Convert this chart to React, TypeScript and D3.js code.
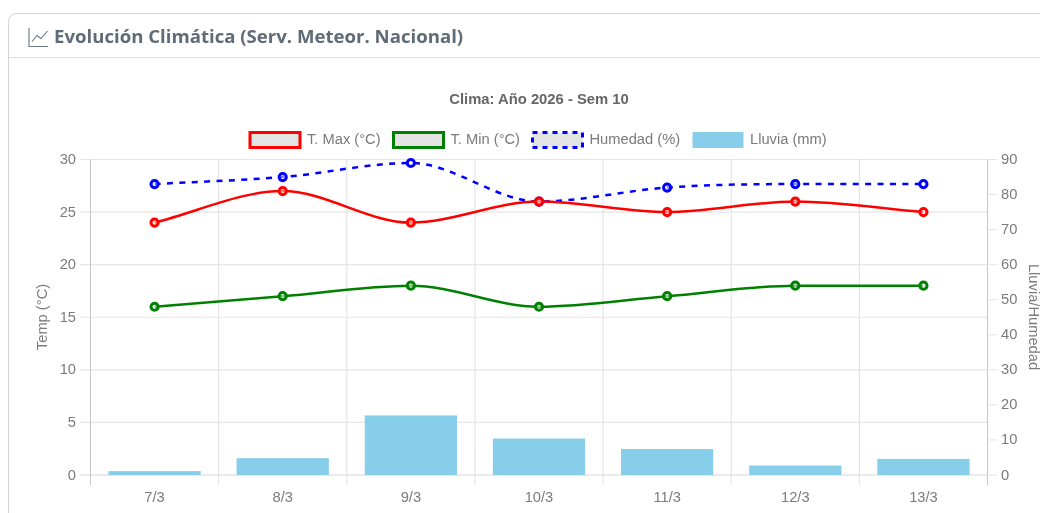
import React from "react";
import * as d3 from "d3";

const days = ["7/3", "8/3", "9/3", "10/3", "11/3", "12/3", "13/3"];
const tMax = [24, 27, 24, 26, 25, 26, 25];
const tMin = [16, 17, 18, 16, 17, 18, 18];
const humidity = [83, 85, 89, 78, 82, 83, 83];
const rain = [1.1, 4.8, 17, 10.4, 7.4, 2.7, 4.6];
const leftTicks = [0, 5, 10, 15, 20, 25, 30];
const rightTicks = [0, 10, 20, 30, 40, 50, 60, 70, 80, 90];

const W = 1040, H = 513;
const L = 90.5, R = 987.5, T = 159.5, B = 475;
const SANS = '"Liberation Sans", Arial, sans-serif';
const TXT = "#7b7b7b";
const FS = 14.7;

// Monotone cubic interpolation in the Chart.js manner, as a d3 curve factory
function monotoneCurve(context: any) {
  let pts: [number, number][] = [];
  return {
    areaStart() {},
    areaEnd() {},
    lineStart() { pts = []; },
    point(x: number, y: number) { pts.push([x, y]); },
    lineEnd() {
      const n = pts.length;
      const delta = d3.range(n - 1).map((i) => (pts[i + 1][1] - pts[i][1]) / (pts[i + 1][0] - pts[i][0]));
      const m = pts.map((_, i) => {
        if (i === 0) return delta[0];
        if (i === n - 1) return delta[n - 2];
        if (Math.sign(delta[i - 1]) !== Math.sign(delta[i])) return 0;
        return (delta[i - 1] + delta[i]) / 2;
      });
      delta.forEach((d, i) => {
        if (Math.abs(d) < 1e-9) { m[i] = 0; m[i + 1] = 0; return; }
        const a = m[i] / d, b = m[i + 1] / d, sq = a * a + b * b;
        if (sq <= 9) return;
        const tau = 3 / Math.sqrt(sq);
        m[i] = a * tau * d;
        m[i + 1] = b * tau * d;
      });
      pts.forEach((p, i) => {
        if (i === 0) { context.moveTo(p[0], p[1]); return; }
        const q = pts[i - 1], h = (p[0] - q[0]) / 3;
        context.bezierCurveTo(q[0] + h, q[1] + m[i - 1] * h, p[0] - h, p[1] - m[i] * h, p[0], p[1]);
      });
    },
  };
}

const x = d3.scaleBand<string>().domain(days).range([L, R]);
const yL = d3.scaleLinear().domain([0, 30]).range([B, T]);
const yR = d3.scaleLinear().domain([0, 90]).range([B, T]);
const cx = (d: string) => (x(d) as number) + x.bandwidth() / 2;
const barW = x.bandwidth() * 0.72;

const series = [
  { name: "Humedad (%)", vals: humidity, y: yR, color: "#0000ff", dash: "6 6.4" as string | undefined },
  { name: "T. Min (°C)", vals: tMin, y: yL, color: "#008000", dash: undefined },
  { name: "T. Max (°C)", vals: tMax, y: yL, color: "#ff0000", dash: undefined },
];

const legend = [
  { name: "T. Max (°C)", bx: 250, color: "#ff0000", fill: "#e3e3e3", dash: undefined as string | undefined, w: 3 },
  { name: "T. Min (°C)", bx: 393.5, color: "#008000", fill: "#e3e3e3", dash: undefined, w: 3 },
  { name: "Humedad (%)", bx: 532.5, color: "#0000ff", fill: "#e3e3e3", dash: "5 5", w: 3 },
  { name: "Lluvia (mm)", bx: 693, color: "#87ceeb", fill: "#87ceeb", dash: undefined, w: 1 },
];

export default function App() {
  return (
    <svg width={W} height={H} viewBox={`0 0 ${W} ${H}`} style={{ position: "absolute", left: 0, top: 0, display: "block", background: "#fff", filter: "blur(0.4px)" }}>
      {/* card */}
      <path d={`M8.5 ${H}V21.5a8 8 0 0 1 8-8H${W}`} fill="none" stroke="#d4d4d4" />
      <line x1={9} x2={W} y1={57.5} y2={57.5} stroke="#e0e0e0" />
      <g fill="none" stroke="#6c757d" strokeWidth={1.1}>
        <path d="M29 28V46.5H48" />
        <path d="M32 41.5L37 35.5L41 38.5L47.5 31" />
      </g>
      <text x={54} y={43} fontFamily='"Open Sans", sans-serif' fontWeight={700} fontSize={18.6} fill="#5f6b76">Evolución Climática (Serv. Meteor. Nacional)</text>

      <text x={539} y={104} textAnchor="middle" fontFamily={SANS} fontWeight={700} fontSize={14.8} fill="#666">Clima: Año 2026 - Sem 10</text>

      {/* legend */}
      {legend.map((l) => (
        <g key={l.name}>
          <rect x={l.bx} y={132.5} width={50} height={15} fill={l.fill} stroke={l.color} strokeWidth={l.w} strokeDasharray={l.dash} />
          <text x={l.bx + 57} y={144} fontFamily={SANS} fontSize={FS} fill={TXT}>{l.name}</text>
        </g>
      ))}

      {/* horizontal grid & left ticks */}
      {leftTicks.map((t) => (
        <g key={t}>
          <line x1={80} x2={R} y1={yL(t)} y2={yL(t)} stroke={t === 0 ? "#d6d6d6" : "#e6e6e6"} strokeWidth={1.1} />
          <text x={76} y={yL(t) + 4.5} textAnchor="end" fontFamily={SANS} fontSize={FS} fill={TXT}>{t}</text>
        </g>
      ))}

      {/* vertical grid */}
      {d3.range(days.length + 1).map((i) => {
        const gx = L + i * x.bandwidth();
        const edge = i === 0 || i === days.length;
        return <line key={i} x1={gx} x2={gx} y1={T} y2={485} stroke={edge ? "#c8c8c8" : "#e2e2e2"} strokeWidth={1.1} />;
      })}

      {/* right ticks */}
      {rightTicks.map((t) => (
        <g key={t}>
          <line x1={R} x2={997.5} y1={yR(t)} y2={yR(t)} stroke="#e6e6e6" />
          <text x={1001} y={yR(t) + 4.5} fontFamily={SANS} fontSize={FS} fill={TXT}>{t}</text>
        </g>
      ))}

      {/* x labels */}
      {days.map((d) => (
        <text key={d} x={cx(d)} y={502} textAnchor="middle" fontFamily={SANS} fontSize={FS} fill={TXT}>{d}</text>
      ))}

      {/* axis titles */}
      <text transform={`translate(46.5 317) rotate(-90)`} textAnchor="middle" fontFamily={SANS} fontSize={FS} fill={TXT}>Temp (°C)</text>
      <text transform={`translate(1029 317) rotate(90)`} textAnchor="middle" fontFamily={SANS} fontSize={FS} fill={TXT}>Lluvia/Humedad</text>

      {/* bars */}
      {days.map((d, i) => (
        <rect key={d} x={cx(d) - barW / 2} y={yR(rain[i])} width={barW} height={B - yR(rain[i])} fill="#87ceeb" />
      ))}

      {/* lines */}
      {series.map((s) => {
        const line = d3.line<number>().x((_, i) => cx(days[i])).y((v) => s.y(v)).curve(monotoneCurve as any);
        return (
          <g key={s.name}>
            <path d={line(s.vals) as string} fill="none" stroke={s.color} strokeWidth={2.5} strokeDasharray={s.dash} />
            {s.vals.map((v, i) => (
              <circle key={i} cx={cx(days[i])} cy={s.y(v)} r={3.6} fill="rgba(255,255,255,0.5)" stroke={s.color} strokeWidth={3} />
            ))}
          </g>
        );
      })}
    </svg>
  );
}
